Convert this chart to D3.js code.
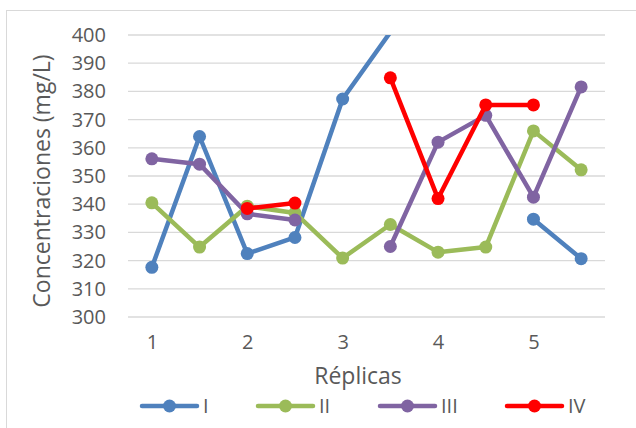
<!DOCTYPE html>
<html>
<head>
<meta charset="utf-8">
<script src="https://cdn.jsdelivr.net/npm/d3@7"></script>
<style>
  html, body { margin: 0; padding: 0; background: #fff; }
  svg text { font-family: "Open Sans", "Liberation Sans", sans-serif; fill: #595959; }
</style>
</head>
<body>
<svg id="chart" width="636" height="428"></svg>
<script>
// Replica positions (each replica has two readings, at n and n + 0.5)
const positions = [1, 1.5, 2, 2.5, 3, 3.5, 4, 4.5, 5, 5.5];
const xTickValues = [1, 2, 3, 4, 5];
const yTickValues = [300, 310, 320, 330, 340, 350, 360, 370, 380, 390, 400];
const seriesNames = ["I", "II", "III", "IV"];
const seriesColors = ["#4f81bd", "#9bbb59", "#8064a2", "#ff0000"];

// Concentrations (mg/L); null = no reading
const valuesI   = [317.6, 364.0, 322.5, 328.2, 377.3, 401.0, null, null, 334.7, 320.7];
const valuesII  = [340.5, 324.8, 339.3, 336.9, 320.9, 332.8, 323.0, 324.8, 366.0, 352.2];
const valuesIII = [356.1, 354.2, 336.6, 334.4, null, 325.0, 362.0, 371.5, 342.5, 381.6];
const valuesIV  = [null, null, 338.5, 340.4, null, 384.8, 342.0, 375.2, 375.2, null];

const allValues = [valuesI, valuesII, valuesIII, valuesIV];

const svg = d3.select("#chart");
const plot = { left: 128, right: 605, top: 35, bottom: 317 };

// Outer chart frame
svg.append("rect")
  .attr("x", 6.5).attr("y", 10.5)
  .attr("width", 700).attr("height", 500)
  .attr("fill", "none").attr("stroke", "#d9d9d9").attr("stroke-width", 1);

const x = d3.scaleLinear().domain([0.75, 5.75]).range([plot.left, plot.right]);
const y = d3.scaleLinear().domain([300, 400]).range([plot.bottom, plot.top]);

// Horizontal gridlines
svg.append("g")
  .selectAll("line")
  .data(yTickValues)
  .join("line")
  .attr("x1", plot.left).attr("x2", plot.right)
  .attr("y1", d => y(d)).attr("y2", d => y(d))
  .attr("stroke", "#d9d9d9").attr("stroke-width", 1.3);

// Y axis labels
const yAxis = d3.axisLeft(y).tickValues(yTickValues).tickSize(0).tickPadding(0);
svg.append("g")
  .attr("transform", `translate(${106},0)`)
  .call(yAxis)
  .call(g => g.select(".domain").remove())
  .call(g => g.selectAll("text")
    .attr("font-size", 20)
    .style("font-family", "'Open Sans', sans-serif")
    .attr("fill", "#595959"));

// X axis labels
const xAxis = d3.axisBottom(x).tickValues(xTickValues).tickFormat(d3.format("d")).tickSize(0).tickPadding(0);
svg.append("g")
  .attr("transform", `translate(0,${335})`)
  .call(xAxis)
  .call(g => g.select(".domain").remove())
  .call(g => g.selectAll("text")
    .attr("font-size", 20)
    .style("font-family", "'Open Sans', sans-serif")
    .attr("fill", "#595959"));

// Axis titles
svg.append("text")
  .attr("transform", "translate(50,181) rotate(-90)")
  .attr("text-anchor", "middle")
  .attr("font-size", 23)
  .text("Concentraciones (mg/L)");

svg.append("text")
  .attr("x", 358).attr("y", 384)
  .attr("text-anchor", "middle")
  .attr("font-size", 23)
  .text("Réplicas");

// Series lines and markers
svg.append("clipPath").attr("id", "plot-clip")
  .append("rect")
  .attr("x", plot.left - 20).attr("y", plot.top)
  .attr("width", plot.right - plot.left + 40).attr("height", plot.bottom - plot.top + 20);

const line = d3.line()
  .defined(d => d.v !== null)
  .x(d => x(d.p))
  .y(d => y(d.v));

const seriesG = svg.append("g").attr("clip-path", "url(#plot-clip)");

allValues.forEach((vals, i) => {
  const pts = vals.map((v, j) => ({ p: positions[j], v }));
  const g = seriesG.append("g");
  g.append("path")
    .datum(pts)
    .attr("d", line)
    .attr("fill", "none")
    .attr("stroke", seriesColors[i])
    .attr("stroke-width", 4.5)
    .attr("stroke-linejoin", "round")
    .attr("stroke-linecap", "round");
  g.selectAll("circle")
    .data(pts.filter(d => d.v !== null && d.v <= 400 && d.v >= 300))
    .join("circle")
    .attr("cx", d => x(d.p))
    .attr("cy", d => y(d.v))
    .attr("r", 6.5)
    .attr("fill", seriesColors[i]);
});

// Legend
const legendX = [142, 258, 380, 507];
const legend = svg.append("g");
seriesNames.forEach((name, i) => {
  const lx = legendX[i];
  const ly = 406;
  legend.append("line")
    .attr("x1", lx).attr("x2", lx + 55)
    .attr("y1", ly).attr("y2", ly)
    .attr("stroke", seriesColors[i]).attr("stroke-width", 4.5)
    .attr("stroke-linecap", "round");
  legend.append("circle")
    .attr("cx", lx + 27.5).attr("cy", ly).attr("r", 6.5)
    .attr("fill", seriesColors[i]);
  legend.append("text")
    .attr("x", lx + 61).attr("y", ly + 7)
    .attr("font-size", 20)
    .text(name);
});
</script>
</body>
</html>
